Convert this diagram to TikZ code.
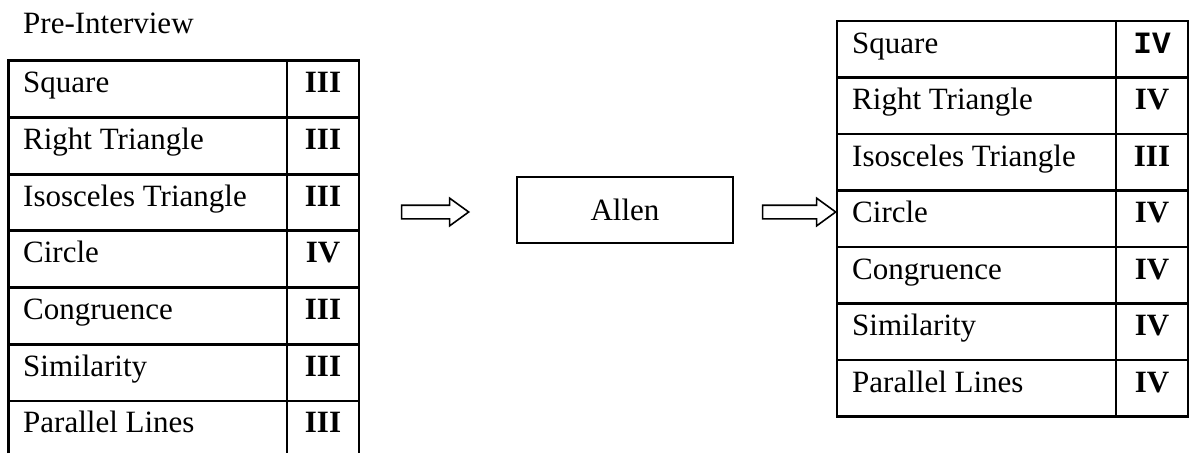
\documentclass[tikz,border=0pt]{standalone}
\usepackage{fontspec}
\setmainfont{Liberation Serif}
\setmonofont{Liberation Mono}
\usetikzlibrary{shapes.arrows}
\begin{document}
\begin{tikzpicture}[x=1pt,y=-1pt,
  grid/.style={line width=2.8pt},
  lbl/.style={anchor=base west,inner sep=0pt,font=\fontsize{31}{36}\selectfont},
  num/.style={anchor=base,inner sep=0pt,font=\fontsize{31}{36}\selectfont\bfseries},
  numtt/.style={anchor=base,inner sep=0pt,font=\fontsize{31}{36}\selectfont\ttfamily\bfseries},
  fatarrow/.style={single arrow,draw,line width=1.6pt,inner sep=0pt,text height=12pt,
    minimum width=26pt,single arrow head extend=7pt,single arrow tip angle=72}
]
\useasboundingbox (0,0) rectangle (1189,453);
% title
\node[lbl] (title) at (23,33) {Pre-Interview};
% left table
\def\lt{60.7}\def\ls{56.7}
\draw[grid] (8.5,453) -- (8.5,\lt) -- (359,\lt) -- (359,453);
\draw[grid] (287,\lt) -- (287,453);
\foreach \k in {1,...,6}{\draw[grid] (8.5,\lt+\k*\ls) -- (359,\lt+\k*\ls);}
\foreach \k/\t/\n in {0/Square/III,1/Right Triangle/III,2/Isosceles Triangle/III,3/Circle/IV,4/Congruence/III,5/Similarity/III,6/Parallel Lines/III}{
  \node[lbl] (L\k) at (23,\lt+\k*\ls+32) {\t};
  \node[num] (LN\k) at (323,\lt+\k*\ls+32) {\n};
}
% right table
\def\rt{21}\def\rs{56.5}
\draw[grid] (837,\rt) rectangle (1188,\rt+7*\rs);
\draw[grid] (1116,\rt) -- (1116,\rt+7*\rs);
\foreach \k in {1,...,6}{\draw[grid] (837,\rt+\k*\rs) -- (1188,\rt+\k*\rs);}
\foreach \k/\t in {0/Square,1/Right Triangle,2/Isosceles Triangle,3/Circle,4/Congruence,5/Similarity,6/Parallel Lines}{
  \node[lbl] (R\k) at (852,\rt+\k*\rs+32) {\t};
}
\node[numtt] (RN0) at (1152,\rt+32) {IV};
\foreach \k/\n in {1/IV,2/III,3/IV,4/IV,5/IV,6/IV}{
  \node[num] (RN\k) at (1152,\rt+\k*\rs+32) {\n};
}
% Allen box
\node[draw,line width=1.8pt,minimum width=216pt,minimum height=66pt,inner sep=0pt,
  font=\fontsize{31}{36}\selectfont] (allen) at (625,210) {Allen};
% arrows
\node[fatarrow,minimum height=67pt] (a1) at (430.5,212) {};
\node[fatarrow,minimum height=73pt] (a2) at (794.5,212) {};
\end{tikzpicture}
\end{document}
